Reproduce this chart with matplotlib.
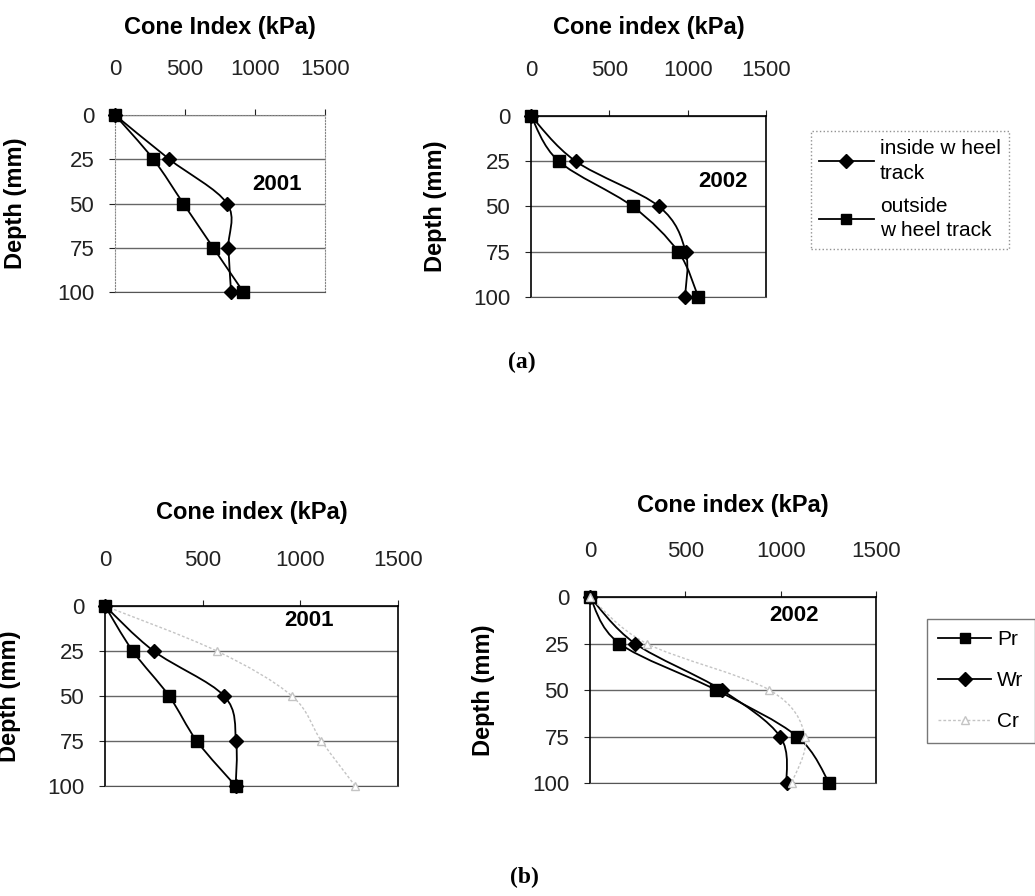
import numpy as np
import matplotlib
matplotlib.use("Agg")
import matplotlib.pyplot as plt
from matplotlib.path import Path
from matplotlib.patches import PathPatch
from matplotlib.lines import Line2D

plt.rcParams['font.family'] = ['Liberation Sans', 'DejaVu Sans']

# data (cone index in kPa at each depth)
depth = [0, 25, 50, 75, 100]
a01_inside = [0, 388, 800, 810, 829]
a01_outside = [0, 274, 488, 702, 917]
a02_inside = [0, 285, 817, 987, 983]
a02_outside = [0, 177, 649, 940, 1068]
b01_pr = [0, 142, 328, 470, 669]
b01_wr = [0, 249, 610, 671, 669]
b01_cr = [0, 572, 957, 1108, 1281]
b02_pr = [0, 154, 661, 1087, 1255]
b02_wr = [0, 236, 690, 997, 1031]
b02_cr = [0, 297, 941, 1128, 1058]
xticks = [0, 500, 1000, 1500]
yticks = [0, 25, 50, 75, 100]

W, H = 1035, 896
fig = plt.figure(figsize=(W / 100, H / 100), dpi=100)


def px_axes(x0, y0, x1, y1):
    return fig.add_axes([x0 / W, 1 - y1 / H, (x1 - x0) / W, (y1 - y0) / H])


def smooth(ax, xs, ys, **kw):
    # excel style smoothed line: bezier through the points
    p = np.column_stack([xs, ys]).astype(float)
    n = len(p)
    verts = [p[0]]
    codes = [Path.MOVETO]
    for i in range(n - 1):
        prev = p[i - 1] if i > 0 else p[i]
        nxt = p[i + 2] if i + 2 < n else p[i + 1]
        c1 = p[i] + (p[i + 1] - prev) / 6
        c2 = p[i + 1] - (nxt - p[i]) / 6
        verts += [c1, c2, p[i + 1]]
        codes += [Path.CURVE4] * 3
    ax.add_patch(PathPatch(Path(verts, codes), fill=False, **kw))


def series(ax, xs, marker, ms, color='black', lw=1.3, ls='-', mfc=None, z=4):
    smooth(ax, xs, depth, edgecolor=color, lw=lw, ls=ls, zorder=3)
    ax.plot(xs, depth, ls='none', marker=marker, ms=ms, color=color,
            mfc=mfc if mfc else color, mec=color, zorder=z, clip_on=False)


def setup(ax, title, year, yx, yy, ylab_off, frame='black'):
    ax.set_xlim(0, 1500)
    ax.set_ylim(100, 0)
    ax.set_xticks(xticks)
    ax.set_yticks(yticks)
    ax.xaxis.tick_top()
    ax.tick_params(axis='x', direction='out', length=4, width=0.8, pad=21.5,
                   labelsize=16, colors='#222222')
    ax.tick_params(axis='y', direction='out', length=4, width=0.8, pad=11,
                   labelsize=16, colors='#222222')
    ax.grid(axis='y', color='#666666', lw=1.0)
    ax.set_axisbelow(True)
    for s in ['top', 'left', 'right']:
        if frame == 'black':
            ax.spines[s].set_color('black')
            ax.spines[s].set_linewidth(1.2)
        else:
            ax.spines[s].set_color('#888888')
            ax.spines[s].set_linestyle(':')
    ax.spines['bottom'].set_color('#555555')
    ax.annotate(title, xy=(0.5, 1), xycoords='axes fraction',
                xytext=(0, ylab_off), textcoords='offset points',
                ha='center', va='center', fontsize=17, fontweight='bold')
    ax.text(yx, yy, year, fontsize=16, fontweight='bold', ha='center',
            va='center')
    ax.set_ylabel('Depth (mm)', fontsize=17, fontweight='bold')


# (a)
ax1 = px_axes(115, 115, 325, 292)
setup(ax1, 'Cone Index (kPa)', '2001', 1157, 39, 63, frame='gray')
ax1.yaxis.set_label_coords(-88 / 210, 0.5)
series(ax1, a01_inside, 'D', 7)
series(ax1, a01_outside, 's', 8)

ax2 = px_axes(531, 116, 766, 297)
setup(ax2, 'Cone index (kPa)', '2002', 1223, 36, 64)
ax2.yaxis.set_label_coords(-84 / 235, 0.5)
series(ax2, a02_inside, 'D', 7)
series(ax2, a02_outside, 's', 8)

h_in = Line2D([], [], color='black', lw=1.3, marker='D', ms=7)
h_out = Line2D([], [], color='black', lw=1.3, marker='s', ms=7)
leg = fig.legend([h_in, h_out], ['inside w heel\ntrack', 'outside\nw heel track'],
                 loc='upper left', bbox_to_anchor=(811 / W, 1 - 131 / H),
                 fontsize=15, frameon=True, fancybox=False, handlelength=2.6,
                 handletextpad=0.3, labelspacing=0.7, borderpad=0.4,
                 borderaxespad=0, numpoints=1)
for t in leg.get_texts():
    t.set_linespacing(1.35)
leg.get_frame().set_edgecolor('#777777')
leg.get_frame().set_linestyle(':')
leg.get_frame().set_linewidth(1.0)

fig.text(522 / W, 1 - 362 / H, '(a)', family='Liberation Serif',
         fontweight='bold', fontsize=17, ha='center', va='center')

# (b)
cr_col = '#c4c4c4'
ax3 = px_axes(105, 606, 398, 786)
setup(ax3, 'Cone index (kPa)', '2001', 1046, 8, 67)
ax3.yaxis.set_label_coords(-84 / 293, 0.5)
series(ax3, b01_cr, '^', 6, color=cr_col, lw=1.0, ls=(0, (2, 1.5)), mfc='white')
series(ax3, b01_pr, 's', 8)
series(ax3, b01_wr, 'D', 7)

ax4 = px_axes(590, 597, 876, 783)
setup(ax4, 'Cone index (kPa)', '2002', 1070, 10, 66)
ax4.yaxis.set_label_coords(-95 / 286, 0.5)
series(ax4, b02_pr, 's', 8)
series(ax4, b02_wr, 'D', 7)
series(ax4, b02_cr, '^', 6, color=cr_col, lw=1.0, ls=(0, (2, 1.5)), mfc='white', z=5)

h_pr = Line2D([], [], color='black', lw=1.3, marker='s', ms=7)
h_wr = Line2D([], [], color='black', lw=1.3, marker='D', ms=7)
h_cr = Line2D([], [], color=cr_col, lw=1.0, ls=(0, (2, 1.5)), marker='^',
              ms=6, mfc='white')
leg2 = fig.legend([h_pr, h_wr, h_cr], ['Pr', 'Wr', 'Cr'],
                  loc='upper left', bbox_to_anchor=(927 / W, 1 - 619 / H),
                  fontsize=15, frameon=True, fancybox=False, handlelength=2.5,
                  handletextpad=0.3, labelspacing=1.05, borderpad=0.55,
                  borderaxespad=0, numpoints=1)
leg2.get_frame().set_edgecolor('#555555')
leg2.get_frame().set_linewidth(1.0)

fig.text(524 / W, 1 - 877 / H, '(b)', family='Liberation Serif',
         fontweight='bold', fontsize=17, ha='center', va='center')

fig.savefig('out.png', dpi=100, facecolor='white')
